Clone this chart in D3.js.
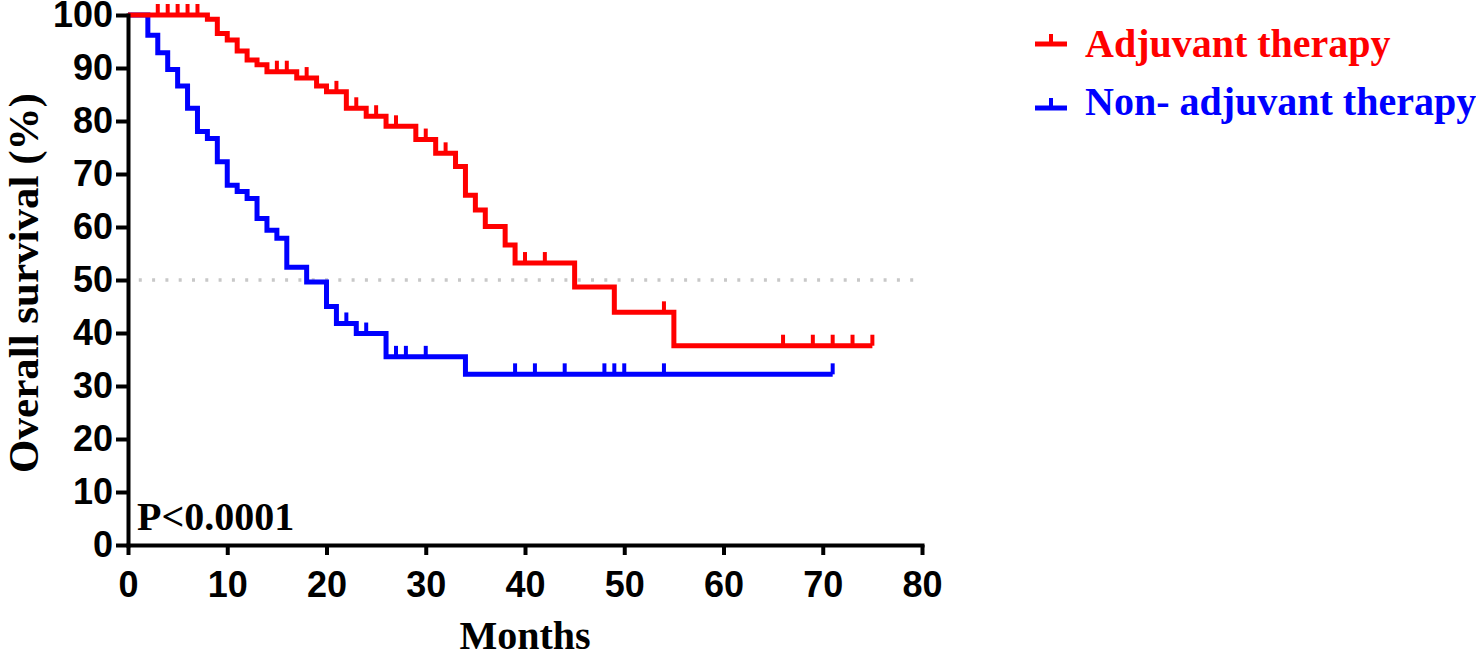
<!DOCTYPE html>
<html>
<head>
<meta charset="utf-8">
<script src="https://cdn.jsdelivr.net/npm/d3@7"></script>
<style>
  body { margin: 0; background: #fff; }
  svg { display: block; }
  .tick text { font-family: "Liberation Sans", Arial, sans-serif; font-weight: bold; font-size: 36px; fill: #000; }
  .title { font-family: "Liberation Serif", "Times New Roman", serif; font-weight: bold; font-size: 40px; }
</style>
</head>
<body>
<svg width="1476" height="653"></svg>
<script>
// data (months, % surviving)

let adjTimes = [0, 8, 9, 10, 11, 12, 13, 14, 17, 19, 20, 22, 24, 26, 29, 31, 33, 34, 35, 36, 38, 39, 45, 49, 55, 75];
let adjSurv = [100, 99.2, 96.5, 95.3, 93.2, 91.5, 90.6, 89.3, 88.1, 86.6, 85.5, 82.4, 80.9, 79.0, 76.5, 73.9, 71.4, 66.0, 63.2, 60.1, 56.6, 53.2, 48.7, 43.9, 37.6, 37.6];
let adjCensored = [3, 4, 5, 6, 7, 15, 16, 18, 21, 23, 25, 27, 30, 32, 40, 42, 54, 66, 69, 71, 73, 75];

let nonTimes = [0, 2, 3, 4, 5, 6, 7, 8, 9, 10, 11, 12, 13, 14, 15, 16, 18, 20, 21, 23, 26, 34, 71];
let nonSurv = [100, 96.2, 92.9, 89.7, 86.6, 82.4, 78.0, 76.7, 72.3, 67.9, 66.7, 65.4, 61.6, 59.4, 57.9, 52.4, 49.6, 45.0, 41.8, 39.9, 35.5, 32.2, 32.2];
let nonCensored = [22, 24, 27, 28, 30, 39, 41, 44, 48, 49, 50, 54, 71];

let seriesNames = ["Adjuvant therapy", "Non- adjuvant therapy"];
let seriesColors = ["#ff0000", "#0000ff"];

let xTicks = [0, 10, 20, 30, 40, 50, 60, 70, 80];
let yTicks = [0, 10, 20, 30, 40, 50, 60, 70, 80, 90, 100];
let medianLine = 50;
let pText = "P<0.0001";

// graphics

let svg = d3.select("svg");

let x = d3.scaleLinear().domain([0, 80]).range([128, 922]);
let y = d3.scaleLinear().domain([0, 100]).range([545, 15]);

// value at time t on a step curve
function survAt(times, surv, t) {
  let v = surv[0];
  for (let i = 0; i < times.length; i++) {
    if (times[i] <= t) v = surv[i];
  }
  return v;
}

// 50% guide
svg.append("line")
  .attr("x1", x(0))
  .attr("x2", x(80))
  .attr("y1", y(medianLine))
  .attr("y2", y(medianLine))
  .attr("stroke", "#c8c8c8")
  .attr("stroke-width", 3.5)
  .attr("stroke-dasharray", "3 10.3")
  .attr("stroke-dashoffset", 2.5)
  ;

let stepLine = d3.line()
  .x(d => x(d[0]))
  .y(d => y(d[1]))
  .curve(d3.curveStepAfter)
  ;

let curves = [
  { times: nonTimes, surv: nonSurv, cens: nonCensored, color: seriesColors[1] },
  { times: adjTimes, surv: adjSurv, cens: adjCensored, color: seriesColors[0] }
];

for (let c of curves) {
  let pts = c.times.map((t, i) => [t, c.surv[i]]);
  svg.append("path")
    .attr("d", stepLine(pts))
    .attr("fill", "none")
    .attr("stroke", c.color)
    .attr("stroke-width", 5)
    .attr("stroke-linejoin", "miter")
    ;
  svg.append("g")
    .selectAll("line")
    .data(c.cens)
    .enter()
    .append("line")
    .attr("x1", d => x(d))
    .attr("x2", d => x(d))
    .attr("y1", d => y(survAt(c.times, c.surv, d)))
    .attr("y2", d => y(survAt(c.times, c.surv, d)) - 11)
    .attr("stroke", c.color)
    .attr("stroke-width", 4)
    ;
}

// axes
let xAxis = svg.append("g")
  .attr("transform", `translate(0, ${y(0)})`)
  .call(d3.axisBottom(x).tickValues(xTicks).tickSize(10).tickSizeOuter(0).tickPadding(16))
  ;
let yAxis = svg.append("g")
  .attr("transform", `translate(${x(0)}, 0)`)
  .call(d3.axisLeft(y).tickValues(yTicks).tickSize(12).tickSizeOuter(0).tickPadding(3))
  ;
for (let ax of [xAxis, yAxis]) {
  ax.select(".domain").attr("stroke", "#000").attr("stroke-width", 4).attr("stroke-linecap", "square");
  ax.selectAll(".tick line").attr("stroke", "#000").attr("stroke-width", 4);
}

// titles
svg.append("text")
  .classed("title", true)
  .attr("x", (x(0) + x(80)) / 2)
  .attr("y", 649)
  .attr("text-anchor", "middle")
  .text("Months")
  ;
svg.append("text")
  .classed("title", true)
  .style("font-size", "43px")
  .attr("transform", `translate(38, ${y(50) + 3}) rotate(-90)`)
  .attr("text-anchor", "middle")
  .text("Overall survival (%)")
  ;
svg.append("text")
  .classed("title", true)
  .attr("x", 137)
  .attr("y", 530)
  .text(pText)
  ;

// legend
let legendY = [44, 108];
let legendTextY = [57, 115];
seriesNames.forEach((name, i) => {
  let g = svg.append("g");
  g.append("line")
    .attr("x1", 1035).attr("x2", 1067)
    .attr("y1", legendY[i]).attr("y2", legendY[i])
    .attr("stroke", seriesColors[i])
    .attr("stroke-width", 5)
    ;
  g.append("line")
    .attr("x1", 1051).attr("x2", 1051)
    .attr("y1", legendY[i]).attr("y2", legendY[i] - 10)
    .attr("stroke", seriesColors[i])
    .attr("stroke-width", 4)
    ;
  g.append("text")
    .classed("title", true)
    .attr("x", 1085)
    .attr("y", legendTextY[i])
    .attr("fill", seriesColors[i])
    .text(name)
    ;
});
</script>
</body>
</html>
